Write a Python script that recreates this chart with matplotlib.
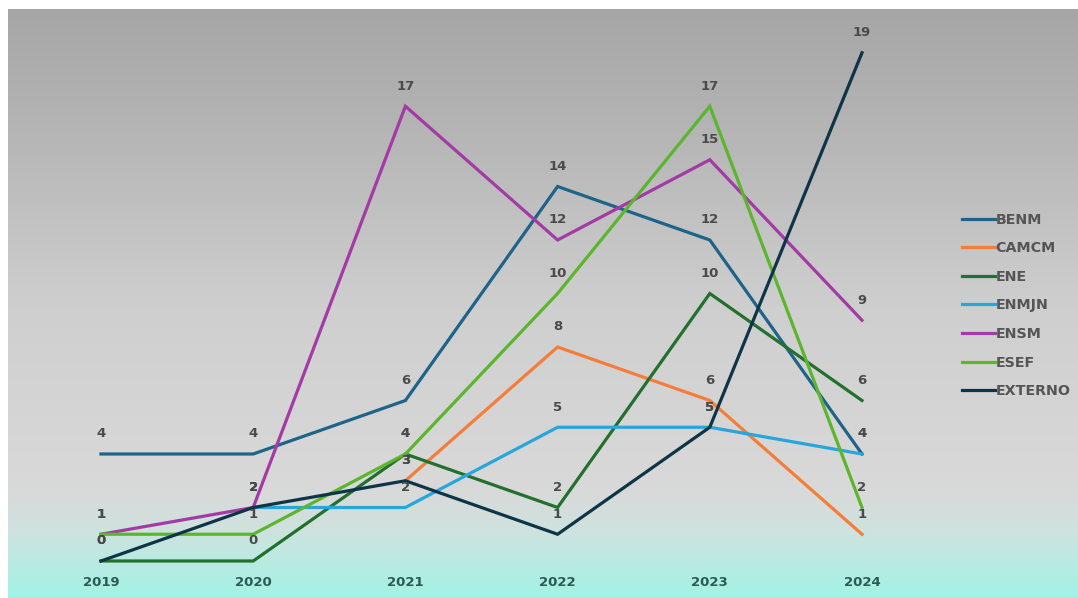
import numpy as np
import matplotlib
matplotlib.use('Agg')
import matplotlib.pyplot as plt
from matplotlib.colors import to_rgb

years = [2019, 2020, 2021, 2022, 2023, 2024]
nan = np.nan
benm = [4, 4, 6, 14, 12, 4]
camcm = [nan, nan, 3, 8, 6, 1]
ene = [0, 0, 4, 2, 10, 6]
enmjn = [nan, 2, 2, 5, 5, 4]
ensm = [1, 2, 17, 12, 15, 9]
esef = [1, 1, 4, 10, 17, 2]
externo = [0, 2, 3, 1, 5, 19]

series = [('BENM', benm, '#1d6488'),
          ('CAMCM', camcm, '#f47d3a'),
          ('ENE', ene, '#23702e'),
          ('ENMJN', enmjn, '#26a6dd'),
          ('ENSM', ensm, '#a43aa6'),
          ('ESEF', esef, '#5bb62e'),
          ('EXTERNO', externo, '#0e3448')]

W, H = 1078, 598
fig = plt.figure(figsize=(W/100, H/100), dpi=100)

# background gradient panel
bg = fig.add_axes([8/W, 0, 1070/W, 589/H])
bg.axis('off')
rows = np.arange(589)
stops = [0, 100, 300, 480, 520, 560, 589]
cols = ['#a6a6a6', '#b2b2b2', '#cfcfcf', '#d9d9d9', '#cfe2de', '#b5ece3', '#a0f3e6']
cols = np.array([to_rgb(c) for c in cols])
grad = np.stack([np.interp(rows, stops, cols[:, i]) for i in range(3)], axis=-1)
bg.imshow(grad[:, None, :], aspect='auto', extent=[0, 1, 0, 1])

# main axes: 2019 at x=101px, 2024 at x=862px; value 0 at y=561px, 26.75 px per unit
px_year = (862 - 101) / 5
left = 101 - px_year / 2
scale = 26.75
bottom_px = 561 + scale
top_px = 561 - 20 * scale
ax = fig.add_axes([left/W, (H - bottom_px)/H, 6*px_year/W, (bottom_px - top_px)/H])
ax.set_xlim(2018.5, 2024.5)
ax.set_ylim(-1, 20)
ax.patch.set_alpha(0)
ax.axis('off')

handles = []
for name, vals, c in series:
    ln, = ax.plot(years, vals, color=c, lw=2.3, label=name, clip_on=False,
                  solid_joinstyle='miter')
    handles.append(ln)
    for x, v in zip(years, vals):
        if np.isnan(v):
            continue
        ax.annotate(str(int(v)), (x, v), xytext=(0, 14.5), textcoords='offset points',
                    ha='center', va='center', fontsize=9.5, fontweight='bold',
                    color='#4a4a4a')

for x in years:
    ax.text(x, -0.8, str(x), ha='center', va='center', fontsize=9.5,
            fontweight='bold', color='#2b5a55')

fig.legend(handles=handles, loc='center left', bbox_to_anchor=(962/W, 1 - 305.5/H),
           frameon=False, handlelength=2.3, handletextpad=0.05,
           labelspacing=1.02, borderpad=0, borderaxespad=0,
           prop={'weight': 'bold', 'size': 10.3}, labelcolor='#555555')

fig.savefig('out.png', dpi=100)
